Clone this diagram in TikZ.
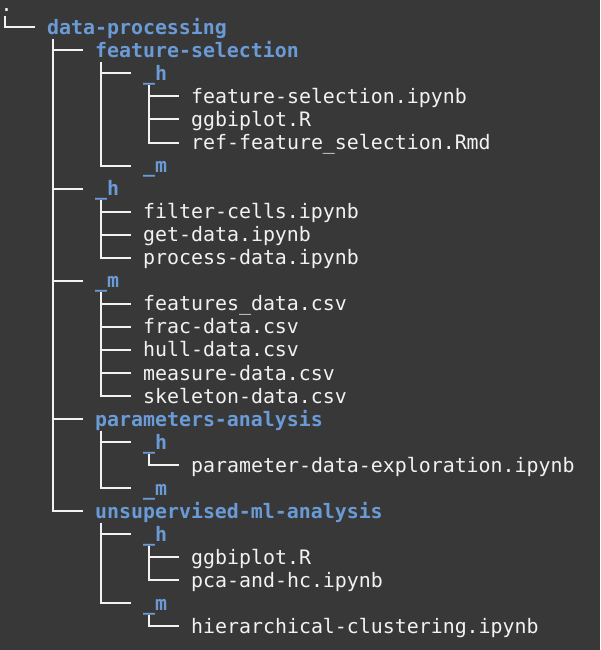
\documentclass[tikz,border=0pt]{standalone}
\usepackage{fontspec}
\setmonofont{DejaVu Sans Mono}
\usepackage{xcolor}
\definecolor{termbg}{HTML}{383838}
\definecolor{termfg}{HTML}{F2F2F2}
\definecolor{dirblue}{HTML}{6A9BD6}
\tikzset{
  entry/.style={inner sep=0pt,anchor=base west,text height=18.7pt,text depth=4.3pt,
    font=\ttfamily\fontsize{19.9}{23}\selectfont,text=termfg},
  dir/.style={entry,text=dirblue,font=\ttfamily\bfseries\fontsize{19.9}{23}\selectfont},
  branch/.style={draw=termfg,line width=2pt}
}
\begin{document}
\begin{tikzpicture}[x=1pt,y=-1pt]
\fill[termbg] (0,0) rectangle (600,650);
\useasboundingbox (0,0) rectangle (600,650);
% tree entries
\draw (0.5,11.5) node[entry,text height=6pt](root) {.};
\draw (47,34.5) node[dir](dataproc) {data-processing};
\draw (95,57.6) node[dir](featsel) {feature-selection};
\draw (143,80.6) node[dir](featselh) {\_h};
\draw (191,103.6) node[entry](fsipynb) {feature-selection.ipynb};
\draw (191,126.7) node[entry](fsggbi) {ggbiplot.R};
\draw (191,149.7) node[entry](fsref) {ref-feature\_selection.Rmd};
\draw (143,172.7) node[dir](featselm) {\_m};
\draw (95,195.7) node[dir](dph) {\_h};
\draw (143,218.8) node[entry](filtcells) {filter-cells.ipynb};
\draw (143,241.8) node[entry](getdata) {get-data.ipynb};
\draw (143,264.8) node[entry](procdata) {process-data.ipynb};
\draw (95,287.9) node[dir](dpm) {\_m};
\draw (143,310.9) node[entry](featdata) {features\_data.csv};
\draw (143,333.9) node[entry](fracdata) {frac-data.csv};
\draw (143,356.9) node[entry](hulldata) {hull-data.csv};
\draw (143,380.0) node[entry](measdata) {measure-data.csv};
\draw (143,403.0) node[entry](skeldata) {skeleton-data.csv};
\draw (95,426.0) node[dir](params) {parameters-analysis};
\draw (143,449.1) node[dir](paramsh) {\_h};
\draw (191,472.1) node[entry](paramexpl) {parameter-data-exploration.ipynb};
\draw (143,495.1) node[dir](paramsm) {\_m};
\draw (95,518.2) node[dir](unsup) {unsupervised-ml-analysis};
\draw (143,541.2) node[dir](unsuph) {\_h};
\draw (191,564.2) node[entry](unggbi) {ggbiplot.R};
\draw (191,587.3) node[entry](pcahc) {pca-and-hc.ipynb};
\draw (143,610.3) node[dir](unsupm) {\_m};
\draw (191,633.3) node[entry](hiercl) {hierarchical-clustering.ipynb};
% branches
\draw[branch] ([xshift=4.5pt]root.south west) |- ([xshift=-12pt]dataproc.west);
\foreach \kid in {featsel,dph,dpm,params,unsup}
  \draw[branch] ([xshift=6pt]dataproc.south west) |- ([xshift=-12pt]\kid.west);
\foreach \kid in {featselh,featselm}
  \draw[branch] ([xshift=6pt]featsel.south west) |- ([xshift=-12pt]\kid.west);
\foreach \kid in {fsipynb,fsggbi,fsref}
  \draw[branch] ([xshift=6pt]featselh.south west) |- ([xshift=-12pt]\kid.west);
\foreach \kid in {filtcells,getdata,procdata}
  \draw[branch] ([xshift=6pt]dph.south west) |- ([xshift=-12pt]\kid.west);
\foreach \kid in {featdata,fracdata,hulldata,measdata,skeldata}
  \draw[branch] ([xshift=6pt]dpm.south west) |- ([xshift=-12pt]\kid.west);
\foreach \kid in {paramsh,paramsm}
  \draw[branch] ([xshift=6pt]params.south west) |- ([xshift=-12pt]\kid.west);
\draw[branch] ([xshift=6pt]paramsh.south west) |- ([xshift=-12pt]paramexpl.west);
\foreach \kid in {unsuph,unsupm}
  \draw[branch] ([xshift=6pt]unsup.south west) |- ([xshift=-12pt]\kid.west);
\foreach \kid in {unggbi,pcahc}
  \draw[branch] ([xshift=6pt]unsuph.south west) |- ([xshift=-12pt]\kid.west);
\draw[branch] ([xshift=6pt]unsupm.south west) |- ([xshift=-12pt]hiercl.west);
\end{tikzpicture}
\end{document}
